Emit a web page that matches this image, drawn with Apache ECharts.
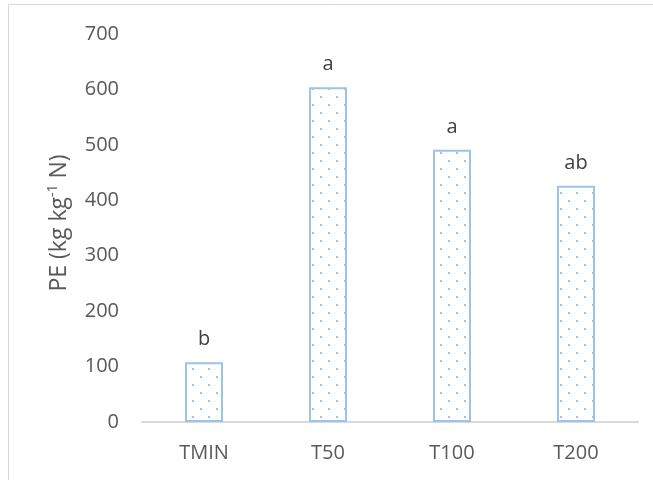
<!DOCTYPE html>
<html>
<head>
<meta charset="utf-8">
<style>
  html, body { margin: 0; padding: 0; background: #fff; }
  #chart { width: 653px; height: 480px; }
</style>
<script src="https://cdn.jsdelivr.net/npm/echarts@6/dist/echarts.min.js"></script>
</head>
<body>
<div id="chart"></div>
<script>
// Treatments and their PE values (kg kg-1 N) with significance letters
const categories = ['TMIN', 'T50', 'T100', 'T200'];
const peValues = [108, 604, 491, 426];
const letters = ['b', 'a', 'a', 'ab'];
const yTicks = { min: 0, max: 700, interval: 100 };

// Dotted fill pattern for the bars
function dotPattern() {
  const c = document.createElement('canvas');
  c.width = 16; c.height = 16;
  const g = c.getContext('2d');
  g.fillStyle = '#ffffff';
  g.fillRect(0, 0, 16, 16);
  g.fillStyle = '#9dc3e6';
  g.fillRect(0, 0, 2, 2);
  g.fillRect(8, 8, 2, 2);
  return c;
}

const chart = echarts.init(document.getElementById('chart'), null, { renderer: 'canvas' });
const fontFamily = '"Open Sans", "Liberation Sans", sans-serif';
const pattern = { image: dotPattern(), repeat: 'repeat' };

chart.setOption({
  backgroundColor: '#ffffff',
  animation: false,
  graphic: [{
    type: 'rect',
    shape: { x: 8.5, y: 4.5, width: 660, height: 490 },
    style: { fill: 'none', stroke: '#d9d9d9', lineWidth: 1 },
    silent: true
  }],
  grid: { left: 142, top: 34, width: 496, height: 388 },
  xAxis: {
    type: 'category',
    data: categories,
    axisLine: { lineStyle: { color: '#d9d9d9', width: 2 } },
    axisTick: { show: false },
    axisLabel: { color: '#595959', fontSize: 20, fontFamily: fontFamily, margin: 21 }
  },
  yAxis: {
    type: 'value',
    min: yTicks.min,
    max: yTicks.max,
    interval: yTicks.interval,
    axisLine: { show: false },
    axisTick: { show: false },
    splitLine: { show: false },
    axisLabel: { color: '#595959', fontSize: 20, fontFamily: fontFamily, margin: 23 },
    name: 'PE (kg kg{sup|-1} N)',
    nameLocation: 'middle',
    nameRotate: 90,
    nameGap: 70,
    nameTextStyle: {
      color: '#595959', fontSize: 23, fontFamily: fontFamily,
      padding: [0, 0, 0, 10],
      rich: {
        sup: { fontSize: 14, fontFamily: fontFamily, color: '#595959', padding: [0, 0, 12, 0] }
      }
    }
  },
  series: [{
    type: 'bar',
    data: peValues,
    barWidth: 38,
    itemStyle: { color: pattern, borderColor: '#9dc3e6', borderWidth: 2 },
    label: {
      show: true,
      position: 'top',
      distance: 13,
      color: '#404040',
      fontSize: 20,
      fontFamily: fontFamily,
      formatter: p => letters[p.dataIndex]
    }
  }]
});
</script>
</body>
</html>
